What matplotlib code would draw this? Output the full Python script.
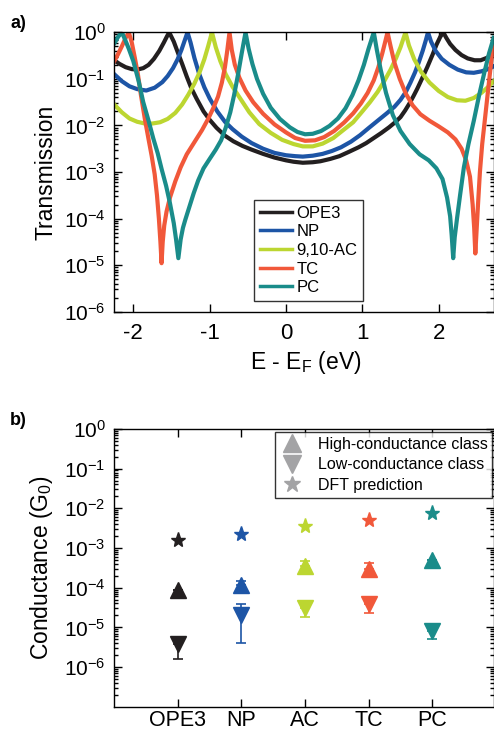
import matplotlib
matplotlib.use("Agg")
import matplotlib.pyplot as plt
from matplotlib.lines import Line2D
from matplotlib.ticker import LogLocator, NullFormatter, FixedLocator, LogFormatterSciNotation

plt.rcParams['font.family'] = ['Liberation Sans', 'DejaVu Sans']
plt.rcParams['mathtext.fontset'] = 'custom'
plt.rcParams['mathtext.rm'] = 'Liberation Sans'
plt.rcParams['mathtext.it'] = 'Liberation Sans:italic'
plt.rcParams['mathtext.default'] = 'regular'
plt.rcParams['axes.unicode_minus'] = False
plt.rcParams['axes.linewidth'] = 1.0

# ---- a) transmission curves ----
e_ope3 = [-2.25, -2.18, -2.10, -2.02, -1.95, -1.87, -1.80, -1.73, -1.66, -1.60, -1.56, -1.53,
          -1.47, -1.42, -1.36, -1.30, -1.24, -1.17, -1.08, -1.00, -0.91, -0.80, -0.69, -0.57, -0.45,
          -0.30, -0.15, 0.0, 0.10, 0.22, 0.35, 0.45, 0.58, 0.70, 0.82, 0.95, 1.05, 1.15, 1.25, 1.35,
          1.43, 1.50, 1.56, 1.62, 1.67, 1.72, 1.78, 1.85, 1.92, 1.97, 2.02, 2.06,
          2.10, 2.15, 2.22, 2.30, 2.38, 2.47, 2.55, 2.63, 2.72]
t_ope3 = [0.251, 0.209, 0.178, 0.162, 0.158, 0.170, 0.200, 0.269, 0.398, 0.603, 0.813, 1.0,
          0.631, 0.380, 0.209, 0.112, 0.0631, 0.0372, 0.0200, 0.0132, 8.91e-3, 6.03e-3, 4.57e-3,
          3.63e-3, 3.02e-3, 2.45e-3, 2.04e-3, 1.78e-3, 1.66e-3, 1.58e-3, 1.62e-3, 1.70e-3, 1.91e-3,
          2.19e-3, 2.69e-3, 3.39e-3, 4.17e-3, 5.37e-3, 6.92e-3, 9.12e-3, 0.0117, 0.0151, 0.0209,
          0.0302, 0.0427, 0.0617, 0.100, 0.178, 0.331, 0.537, 0.794, 1.0,
          0.759, 0.562, 0.417, 0.324, 0.275, 0.251, 0.251, 0.282, 0.347]

e_np = [-2.25, -2.15, -2.05, -1.95, -1.83, -1.72, -1.62, -1.55, -1.48, -1.42, -1.37, -1.33, -1.29,
        -1.25, -1.20, -1.14, -1.07, -1.00, -0.90, -0.80, -0.70, -0.58, -0.45, -0.30, -0.15, 0.0, 0.12,
        0.22, 0.35, 0.48, 0.60, 0.72, 0.85, 0.97, 1.08, 1.20, 1.32, 1.42, 1.50, 1.57, 1.63, 1.69, 1.74,
        1.79, 1.83, 1.86,
        1.90, 1.96, 2.04, 2.14, 2.25, 2.36, 2.46, 2.56, 2.65, 2.72]
t_np = [0.126, 0.0891, 0.0692, 0.0603, 0.0562, 0.0646, 0.0851, 0.115, 0.170, 0.263, 0.417, 0.646, 1.0,
        0.603, 0.282, 0.132, 0.0661, 0.0380, 0.0200, 0.0120, 8.32e-3, 5.75e-3, 4.17e-3, 3.16e-3,
        2.57e-3, 2.29e-3, 2.19e-3, 2.14e-3, 2.24e-3, 2.45e-3, 2.82e-3, 3.39e-3, 4.47e-3, 6.17e-3,
        8.71e-3, 0.0126, 0.0182, 0.0251, 0.0355, 0.0525, 0.0832, 0.138, 0.229, 0.398, 0.661, 1.0,
        0.631, 0.398, 0.269, 0.200, 0.158, 0.138, 0.135, 0.145, 0.162, 0.186]

e_ac = [-2.25, -2.15, -2.05, -1.95, -1.85, -1.75, -1.65, -1.55, -1.45, -1.36, -1.28, -1.20, -1.13,
        -1.07, -1.02, -0.97,
        -0.92, -0.86, -0.79, -0.70, -0.60, -0.48, -0.35, -0.20, -0.05, 0.10, 0.22, 0.35, 0.48, 0.62,
        0.75, 0.88, 1.00, 1.10, 1.20, 1.29, 1.37, 1.44, 1.50, 1.565,
        1.61, 1.68, 1.77, 1.88, 2.00, 2.12, 2.24, 2.35, 2.46, 2.56, 2.65, 2.72]
t_ac = [0.0282, 0.0191, 0.0141, 0.0120, 0.0110, 0.0110, 0.0117, 0.0138, 0.0186, 0.0282, 0.0457,
        0.0794, 0.141, 0.263, 0.501, 1.0,
        0.479, 0.240, 0.126, 0.0676, 0.0380, 0.0191, 0.0107, 6.92e-3, 4.90e-3, 3.98e-3, 3.55e-3,
        3.55e-3, 4.07e-3, 5.37e-3, 7.94e-3, 0.0117, 0.0200, 0.0316, 0.0525, 0.0912, 0.158, 0.275,
        0.479, 1.0,
        0.525, 0.263, 0.141, 0.0832, 0.0550, 0.0407, 0.0347, 0.0339, 0.0389, 0.0501, 0.0676, 0.0891]

e_tc = [-2.25, -2.20, -2.15, -2.10, -2.06, -2.02, -1.98, -1.94, -1.90, -1.85, -1.80, -1.76, -1.72,
        -1.69, -1.665, -1.645, -1.63, -1.615, -1.595, -1.565, -1.52, -1.45, -1.38, -1.30, -1.20, -1.10,
        -1.02, -0.95, -0.89, -0.84, -0.80, -0.77, -0.74,
        -0.71, -0.67, -0.61, -0.53, -0.43, -0.30, -0.15, 0.0, 0.12, 0.25, 0.38, 0.50, 0.63, 0.76, 0.88,
        0.98, 1.07, 1.15, 1.21, 1.26, 1.30, 1.33,
        1.37, 1.42, 1.49, 1.57, 1.66, 1.76, 1.88, 2.00, 2.12, 2.22, 2.30, 2.36, 2.41, 2.445, 2.465,
        2.48, 2.495, 2.515, 2.54, 2.57, 2.61, 2.65, 2.69, 2.72]
t_tc = [0.240, 0.339, 0.501, 0.759, 1.0, 0.603, 0.282, 0.126, 0.0447, 0.0141, 5.01e-3, 2.24e-3,
        8.91e-4, 3.16e-4, 1.0e-4, 3.16e-5, 1.10e-5, 3.16e-5, 7.08e-5, 1.41e-4, 2.82e-4, 6.31e-4,
        1.26e-3, 2.40e-3, 4.37e-3, 7.94e-3, 0.0138, 0.0240, 0.0417, 0.0832, 0.178, 0.398, 1.0,
        0.417, 0.200, 0.105, 0.0562, 0.0316, 0.0178, 0.0105, 7.08e-3, 5.37e-3, 4.68e-3, 4.79e-3,
        5.62e-3, 7.59e-3, 0.0115, 0.0182, 0.0295, 0.0501, 0.0933, 0.178, 0.347, 0.631, 1.0,
        0.501, 0.224, 0.100, 0.0479, 0.0269, 0.0174, 0.0126, 9.55e-3, 7.08e-3, 5.01e-3, 3.16e-3,
        1.78e-3, 7.94e-4, 2.0e-4, 6.31e-5, 1.78e-5, 5.01e-5, 2.0e-4, 1.0e-3, 3.98e-3, 0.0158,
        0.0631, 0.251, 0.708]

e_pc = [-2.25, -2.20, -2.15, -2.11, -2.06, -2.00, -1.93, -1.87, -1.80, -1.74, -1.68, -1.63, -1.57,
        -1.52, -1.47, -1.44, -1.41, -1.38, -1.35, -1.32, -1.26, -1.21, -1.15, -1.08, -1.00, -0.92,
        -0.85, -0.79, -0.73, -0.68, -0.63, -0.58, -0.53,
        -0.49, -0.44, -0.38, -0.30, -0.20, -0.08, 0.05, 0.15, 0.25, 0.35, 0.46, 0.57, 0.68, 0.78,
        0.87, 0.95, 1.02, 1.08, 1.15,
        1.19, 1.24, 1.31, 1.40, 1.50, 1.62, 1.75, 1.87, 1.97, 2.05, 2.11, 2.15, 2.17, 2.19, 2.21,
        2.24, 2.28, 2.33, 2.39, 2.46, 2.53, 2.60, 2.66, 2.72]
t_pc = [0.575, 0.794, 1.0, 0.708, 0.447, 0.240, 0.0891, 0.0316, 0.0126, 5.37e-3, 2.51e-3, 1.17e-3,
        5.01e-4, 2.14e-4, 7.94e-5, 3.55e-5, 1.41e-5, 3.55e-5, 6.31e-5, 9.33e-5, 1.91e-4, 3.47e-4,
        6.61e-4, 1.20e-3, 1.91e-3, 3.02e-3, 4.79e-3, 8.91e-3, 0.0191, 0.0447, 0.120, 0.355, 1.0,
        0.447, 0.209, 0.100, 0.0479, 0.0240, 0.0138, 9.12e-3, 7.24e-3, 6.46e-3, 6.61e-3, 7.59e-3,
        9.77e-3, 0.0141, 0.0234, 0.0447, 0.0933, 0.200, 0.437, 1.0,
        0.417, 0.158, 0.0501, 0.0166, 7.59e-3, 3.98e-3, 2.40e-3, 1.78e-3, 1.20e-3, 7.08e-4, 2.82e-4,
        1.12e-4, 4.47e-5, 1.41e-5, 3.98e-5, 1.0e-4, 3.16e-4, 1.26e-3, 3.98e-3, 0.0126, 0.0447, 0.141,
        0.355, 0.759]

curve_labels = ['OPE3', 'NP', '9,10-AC', 'TC', 'PC']
colors = ['#231f20', '#1d55a6', '#bcd631', '#f1583a', '#1a8c8a']

# ---- b) measured conductance ----
molecules = ['OPE3', 'NP', 'AC', 'TC', 'PC']
g_high = [9.0e-5, 1.2e-4, 3.5e-4, 2.9e-4, 4.9e-4]
g_high_top = [9.0e-5, 1.5e-4, 4.8e-4, 4.2e-4, 4.9e-4]
g_low = [3.7e-6, 2.1e-5, 3.0e-5, 3.8e-5, 8.1e-6]
g_low_bot = [1.6e-6, 4.1e-6, 1.8e-5, 2.3e-5, 5.2e-6]
g_low_top = [3.7e-6, 3.8e-5, 3.0e-5, 3.8e-5, 8.1e-6]
g_dft = [1.6e-3, 2.2e-3, 3.6e-3, 5.0e-3, 7.6e-3]

W, H = 494, 737
fig = plt.figure(figsize=(W / 100, H / 100), dpi=100)


def style_log_axis(ax, ticklabelsize=15):
    ax.set_yscale('log')
    ax.yaxis.set_major_locator(FixedLocator([10.0 ** k for k in range(-6, 1)]))
    ax.yaxis.set_major_formatter(LogFormatterSciNotation())
    ax.yaxis.set_minor_locator(LogLocator(base=10, subs=range(2, 10), numticks=20))
    ax.yaxis.set_minor_formatter(NullFormatter())
    ax.tick_params(which='both', direction='in', top=True, right=True, width=1.0)
    ax.tick_params(which='major', length=5.5)
    ax.tick_params(which='minor', length=3)
    ax.tick_params(axis='y', labelsize=ticklabelsize, pad=6)


# panel a
ax1 = fig.add_axes([114 / W, 1 - 311.7 / H, 379.5 / W, 279.4 / H])
for e, t, lab, c in zip([e_ope3, e_np, e_ac, e_tc, e_pc], [t_ope3, t_np, t_ac, t_tc, t_pc],
                        curve_labels, colors):
    ax1.plot(e, t, color=c, lw=3.0, label=lab, solid_joinstyle='round')
style_log_axis(ax1)
ax1.set_xlim(-2.253, 2.718)
ax1.set_ylim(1e-6, 1)
ax1.set_xticks([-2, -1, 0, 1, 2])
ax1.tick_params(axis='x', labelsize=16, pad=8)
ax1.set_ylabel('Transmission', fontsize=16.5)
ax1.yaxis.set_label_coords(-0.150, 0.5)
ax1.set_xlabel('E - E$_\\mathregular{F}$ (eV)', fontsize=16.5, va='top')
ax1.xaxis.set_label_coords(0.505, -0.135)
leg1 = ax1.legend(loc='lower left', bbox_to_anchor=(0.369, 0.038), borderaxespad=0,
                  fontsize=12, frameon=True, fancybox=False, edgecolor='black',
                  handlelength=1.9, handletextpad=0.3, labelspacing=0.22, borderpad=0.35)
leg1.get_frame().set_linewidth(1.0)
for ln in leg1.get_lines():
    ln.set_linewidth(2.5)

# panel b
ax2 = fig.add_axes([114 / W, 1 - 706.7 / H, 379.5 / W, 277.7 / H])
x = list(range(1, len(molecules) + 1))
for i, c in enumerate(colors):
    ax2.errorbar(x[i], g_high[i], yerr=[[0], [g_high_top[i] - g_high[i]]], fmt='none',
                 ecolor=c, elinewidth=1.2, capsize=3.5, capthick=1.2, zorder=2)
    ax2.errorbar(x[i], g_low[i], yerr=[[g_low[i] - g_low_bot[i]], [g_low_top[i] - g_low[i]]],
                 fmt='none', ecolor=c, elinewidth=1.2, capsize=3.5, capthick=1.2, zorder=2)
    ax2.plot(x[i], g_high[i], marker='^', ms=12, color=c, ls='none', zorder=3)
    ax2.plot(x[i], g_low[i], marker='v', ms=12, color=c, ls='none', zorder=3)
    ax2.plot(x[i], g_dft[i], marker='*', ms=11, color=c, ls='none', zorder=3)
style_log_axis(ax2)
ax2.set_ylim(1e-7, 1)
ax2.set_xlim(0, 5.96)
ax2.set_xticks(x)
ax2.set_xticklabels(molecules)
ax2.tick_params(axis='x', labelsize=15.5, pad=2.5)
ax2.set_ylabel('Conductance (G$_0$)', fontsize=16.5)
ax2.yaxis.set_label_coords(-0.155, 0.5)

grey = '#a3a3a5'
handles = [Line2D([], [], marker='^', ls='none', color=grey, ms=13),
           Line2D([], [], marker='v', ls='none', color=grey, ms=13),
           Line2D([], [], marker='*', ls='none', color=grey, ms=12)]
leg2 = ax2.legend(handles, ['High-conductance class', 'Low-conductance class', 'DFT prediction'],
                  loc='upper right', bbox_to_anchor=(0.997, 0.989), borderaxespad=0,
                  fontsize=11.5, frameon=True, fancybox=False, edgecolor='black',
                  handlelength=1.6, handletextpad=0.8, labelspacing=0.35, borderpad=0.3)
leg2.get_frame().set_linewidth(1.0)

fig.text(10 / W, 1 - 24 / H, 'a)', fontsize=13, fontweight='bold', va='center', ha='left')
fig.text(10 / W, 1 - 421 / H, 'b)', fontsize=13, fontweight='bold', va='center', ha='left')

fig.savefig('out.png', dpi=100)
